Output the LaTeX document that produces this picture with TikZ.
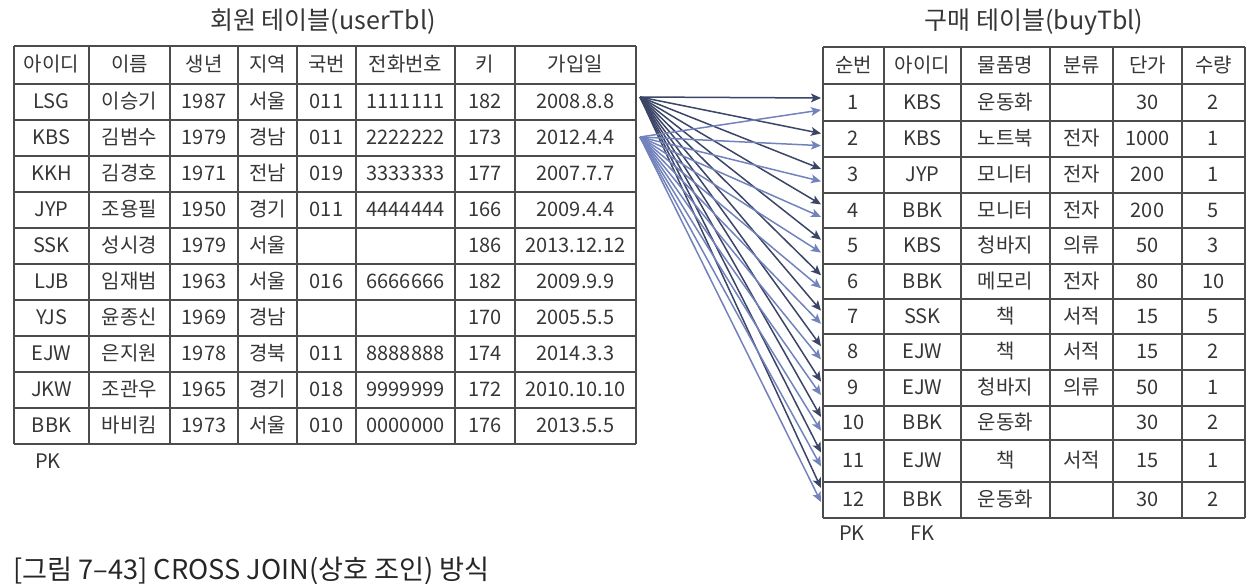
\documentclass[tikz,border=0pt]{standalone}
\usepackage{fontspec}
\setmainfont{Noto Sans CJK KR}
\usetikzlibrary{arrows.meta}

\definecolor{txtgray}{HTML}{363636}
\definecolor{gridgray}{HTML}{4C4C4C}
\definecolor{lsgblue}{HTML}{3B4566}
\definecolor{kbsblue}{HTML}{7282BC}

\tikzset{
  cell/.style={font=\fontsize{10}{12}\selectfont, text=txtgray, inner sep=0pt,
    text height=1.5ex, text depth=.25ex},
  grid/.style={draw=gridgray, line width=0.7pt},
  ttl/.style={font=\fontsize{12.5}{15}\selectfont, text=txtgray, inner sep=0pt},
  lsgarrow/.style={draw=lsgblue, line width=0.75pt,
    -{Stealth[length=5pt,width=4.4pt,inset=1.2pt]}},
  kbsarrow/.style={draw=kbsblue, line width=0.75pt,
    -{Stealth[length=5pt,width=4.4pt,inset=1.2pt]}}
}

\begin{document}
\begin{tikzpicture}[x=0.5pt,y=-0.5pt]
  \useasboundingbox (0,0) rectangle (1254,584);

  % table titles
  \node[ttl] (usertitle) at (323,22) {회원 테이블(userTbl)};
  \node[ttl] (buytitle) at (1034,22) {구매 테이블(buyTbl)};

  % userTbl grid
  \foreach \y in {46,84,120,...,444} { \draw[grid] (14,\y) -- (636,\y); }
  \foreach \x in {14,89,170,238,297,356,455,515,636} { \draw[grid] (\x,46) -- (\x,444); }
  % userTbl header
  \foreach \x/\t [count=\c] in {51.5/아이디,129.5/이름,204/생년,267.5/지역,
      326.5/국번,405.5/전화번호,485/키,575.5/가입일}
    { \node[cell] (uhead\c) at (\x,65) {\t}; }
  % userTbl rows
  \foreach \i/\a/\b/\c/\d/\e/\f/\g/\h in {
      1/LSG/이승기/1987/서울/011/1111111/182/2008.8.8,
      2/KBS/김범수/1979/경남/011/2222222/173/2012.4.4,
      3/KKH/김경호/1971/전남/019/3333333/177/2007.7.7,
      4/JYP/조용필/1950/경기/011/4444444/166/2009.4.4,
      5/SSK/성시경/1979/서울/{}/{}/186/2013.12.12,
      6/LJB/임재범/1963/서울/016/6666666/182/2009.9.9,
      7/YJS/윤종신/1969/경남/{}/{}/170/2005.5.5,
      8/EJW/은지원/1978/경북/011/8888888/174/2014.3.3,
      9/JKW/조관우/1965/경기/018/9999999/172/2010.10.10,
      10/BBK/바비킴/1973/서울/010/0000000/176/2013.5.5} {
    \node[cell] (u\i id) at (51.5,{66+36*\i}) {\a};
    \node[cell] (u\i name) at (129.5,{66+36*\i}) {\b};
    \node[cell] (u\i year) at (204,{66+36*\i}) {\c};
    \node[cell] (u\i addr) at (267.5,{66+36*\i}) {\d};
    \node[cell] (u\i mobA) at (326.5,{66+36*\i}) {\e};
    \node[cell] (u\i mobB) at (405.5,{66+36*\i}) {\f};
    \node[cell] (u\i height) at (485,{66+36*\i}) {\g};
    \node[cell] (u\i mdate) at (575.5,{66+36*\i}) {\h};
  }
  \node[cell] (userpk) at (48,462) {PK};

  % buyTbl grid
  \foreach \y in {47,84,121,157,193,228,264,299,334,370,406,440,482,518}
    { \draw[grid] (823,\y) -- (1245,\y); }
  \foreach \x in {823,884,961,1050,1113,1182} { \draw[grid] (\x,47) -- (\x,518); }
  \draw[grid, line width=1.2pt] (1245,47) -- (1245,518);
  % buyTbl header
  \foreach \x/\t [count=\c] in {853.5/순번,922.5/아이디,1005.5/물품명,
      1081.5/분류,1147.5/단가,1213.5/수량}
    { \node[cell] (bhead\c) at (\x,65.5) {\t}; }
  % buyTbl rows
  \foreach \i/\y/\b/\c/\d/\e/\f in {
      1/102.5/KBS/운동화/{}/30/2,
      2/139/KBS/노트북/전자/1000/1,
      3/175/JYP/모니터/전자/200/1,
      4/210.5/BBK/모니터/전자/200/5,
      5/246/KBS/청바지/의류/50/3,
      6/281.5/BBK/메모리/전자/80/10,
      7/316.5/SSK/책/서적/15/5,
      8/352/EJW/책/서적/15/2,
      9/388/EJW/청바지/의류/50/1,
      10/423/BBK/운동화/{}/30/2,
      11/461/EJW/책/서적/15/1,
      12/500/BBK/운동화/{}/30/2} {
    \node[cell] (b\i num) at (853.5,\y) {\i};
    \node[cell] (b\i id) at (922.5,\y) {\b};
    \node[cell] (b\i prod) at (1005.5,\y) {\c};
    \node[cell] (b\i group) at (1081.5,\y) {\d};
    \node[cell] (b\i price) at (1147.5,\y) {\e};
    \node[cell] (b\i amount) at (1213.5,\y) {\f};
  }
  \node[cell] (buypk) at (852,534) {PK};
  \node[cell] (buyfk) at (922,534) {FK};

  % cross join: every user row meets every buy row
  \coordinate (lsg) at (640,97);
  \coordinate (kbs) at (640,137);
  \foreach \i in {1,...,12} {
    \coordinate (lsgend\i) at (821,{98+35.45*(\i-1)});
    \draw[lsgarrow] (lsg) -- (lsgend\i);
  }
  \foreach \i in {1,...,12} {
    \coordinate (kbsend\i) at (821,{110+35.64*(\i-1)});
    \draw[kbsarrow] (kbs) -- (kbsend\i);
  }

  % caption
  \node[anchor=west, inner sep=0pt, text=black!85, font=\fontsize{13.6}{16}\selectfont]
    (caption) at (13,571) {[그림 7–43] CROSS JOIN(상호 조인) 방식};
\end{tikzpicture}
\end{document}
